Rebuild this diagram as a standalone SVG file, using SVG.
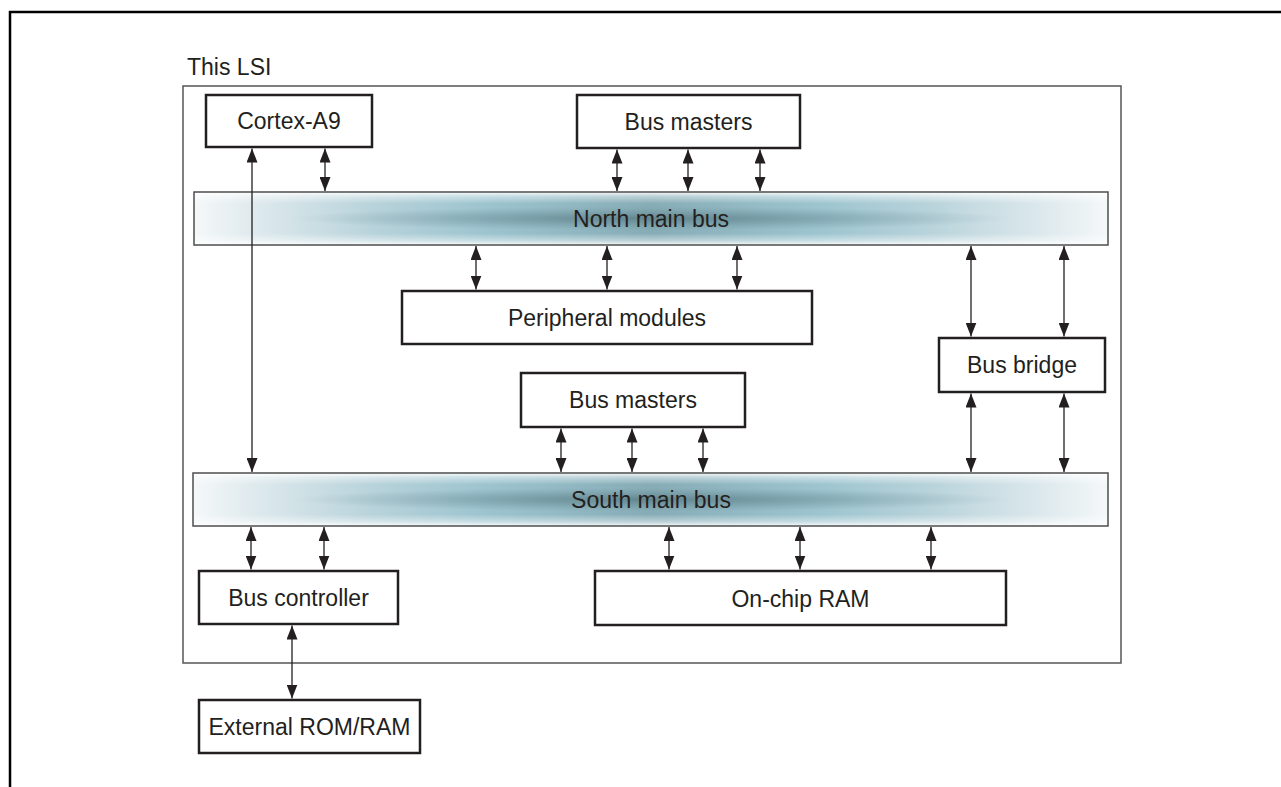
<svg xmlns="http://www.w3.org/2000/svg" width="1281" height="787" viewBox="0 0 1281 787">
<style>
  .box{fill:#fff;stroke:#231f20;stroke-width:2.5}
  .bus{stroke:#4d4d4d;stroke-width:1.5}
  .lsi{fill:none;stroke:#555;stroke-width:1.5}
  .t{font-family:"Liberation Sans",Arial,sans-serif;font-size:23px;fill:#231f20;text-anchor:middle}
  .c line{stroke:#231f20;stroke-width:1.3;marker-start:url(#ah);marker-end:url(#ah)}
</style>
<defs>
  <marker id="ah" viewBox="0 0 14 11" refX="14" refY="5.5" markerWidth="14" markerHeight="11" markerUnits="userSpaceOnUse" orient="auto-start-reverse">
    <path d="M0,0 L14,5.5 L0,11 z" fill="#231f20"/>
  </marker>
  <linearGradient id="hg" x1="0" y1="0" x2="1" y2="0">
    <stop offset="0" stop-color="#f5f8f9"/>
    <stop offset="0.07" stop-color="#dde9ed"/>
    <stop offset="0.2" stop-color="#b7d2da"/>
    <stop offset="0.32" stop-color="#9cc4cf"/>
    <stop offset="0.5" stop-color="#86acb6"/>
    <stop offset="0.68" stop-color="#9cc4cf"/>
    <stop offset="0.8" stop-color="#b7d2da"/>
    <stop offset="0.93" stop-color="#dde9ed"/>
    <stop offset="1" stop-color="#f5f8f9"/>
  </linearGradient>
  <linearGradient id="vg" x1="0" y1="0" x2="0" y2="1">
    <stop offset="0" stop-color="#fff" stop-opacity="0.92"/>
    <stop offset="0.08" stop-color="#fff" stop-opacity="0.45"/>
    <stop offset="0.22" stop-color="#fff" stop-opacity="0"/>
    <stop offset="0.78" stop-color="#fff" stop-opacity="0"/>
    <stop offset="0.92" stop-color="#fff" stop-opacity="0.45"/>
    <stop offset="1" stop-color="#fff" stop-opacity="0.92"/>
  </linearGradient>
  <radialGradient id="core" cx="0.5" cy="0.5" r="0.5">
    <stop offset="0" stop-color="#587880" stop-opacity="0.75"/>
    <stop offset="0.55" stop-color="#628690" stop-opacity="0.35"/>
    <stop offset="1" stop-color="#6f959f" stop-opacity="0"/>
  </radialGradient>
</defs>

<path d="M10,787 V12 H1281" fill="none" stroke="#000" stroke-width="2.5"/>

<g id="lsi">
  <text x="187" y="75" class="t" style="text-anchor:start">This LSI</text>
  <rect class="lsi" x="183" y="86" width="938" height="577"/>
</g>

<g id="north-bus">
  <rect x="194" y="192" width="914" height="53" fill="url(#hg)"/>
  <ellipse cx="651" cy="218.5" rx="360" ry="12" fill="url(#core)"/>
  <rect x="194" y="192" width="914" height="53" fill="url(#vg)"/>
  <rect class="bus" x="194" y="192" width="914" height="53" fill="none"/>
  <text class="t" x="651" y="226.5">North main bus</text>
</g>

<g id="south-bus">
  <rect x="193" y="473" width="915" height="53" fill="url(#hg)"/>
  <ellipse cx="651" cy="499.5" rx="360" ry="12" fill="url(#core)"/>
  <rect x="193" y="473" width="915" height="53" fill="url(#vg)"/>
  <rect class="bus" x="193" y="473" width="915" height="53" fill="none"/>
  <text class="t" x="651" y="507.5">South main bus</text>
</g>

<g class="c" id="connectors">
  <line x1="252" y1="148.5" x2="252" y2="472"/>
  <line x1="325" y1="148.5" x2="325" y2="191"/>
  <line x1="617" y1="149.5" x2="617" y2="191"/>
  <line x1="688" y1="149.5" x2="688" y2="191"/>
  <line x1="760" y1="149.5" x2="760" y2="191"/>
  <line x1="476" y1="246" x2="476" y2="289.5"/>
  <line x1="607" y1="246" x2="607" y2="289.5"/>
  <line x1="737" y1="246" x2="737" y2="289.5"/>
  <line x1="971" y1="246" x2="971" y2="336.5"/>
  <line x1="1064" y1="246" x2="1064" y2="336.5"/>
  <line x1="971" y1="393.5" x2="971" y2="472"/>
  <line x1="1064" y1="393.5" x2="1064" y2="472"/>
  <line x1="561" y1="428.5" x2="561" y2="472"/>
  <line x1="632" y1="428.5" x2="632" y2="472"/>
  <line x1="703" y1="428.5" x2="703" y2="472"/>
  <line x1="251" y1="527" x2="251" y2="569.5"/>
  <line x1="324" y1="527" x2="324" y2="569.5"/>
  <line x1="669" y1="527" x2="669" y2="569.5"/>
  <line x1="800" y1="527" x2="800" y2="569.5"/>
  <line x1="931" y1="527" x2="931" y2="569.5"/>
  <line x1="292" y1="625.5" x2="292" y2="698.5"/>
</g>

<g id="cortex-a9">
  <rect class="box" x="206" y="95" width="166" height="52"/>
  <text class="t" x="289" y="129">Cortex-A9</text>
</g>
<g id="bus-masters-top">
  <rect class="box" x="577" y="95" width="223" height="53"/>
  <text class="t" x="688.5" y="130">Bus masters</text>
</g>
<g id="peripheral-modules">
  <rect class="box" x="402" y="291" width="410" height="53"/>
  <text class="t" x="607" y="326">Peripheral modules</text>
</g>
<g id="bus-bridge">
  <rect class="box" x="939" y="338" width="166" height="54"/>
  <text class="t" x="1022" y="373">Bus bridge</text>
</g>
<g id="bus-masters-mid">
  <rect class="box" x="521" y="373" width="224" height="54"/>
  <text class="t" x="633" y="408">Bus masters</text>
</g>
<g id="bus-controller">
  <rect class="box" x="199" y="571" width="199" height="53"/>
  <text class="t" x="298.5" y="606">Bus controller</text>
</g>
<g id="on-chip-ram">
  <rect class="box" x="595" y="571" width="411" height="54"/>
  <text class="t" x="800.5" y="606.5">On-chip RAM</text>
</g>
<g id="external-rom-ram">
  <rect class="box" x="199" y="700" width="221" height="53"/>
  <text class="t" x="309.5" y="735">External ROM/RAM</text>
</g>
</svg>
